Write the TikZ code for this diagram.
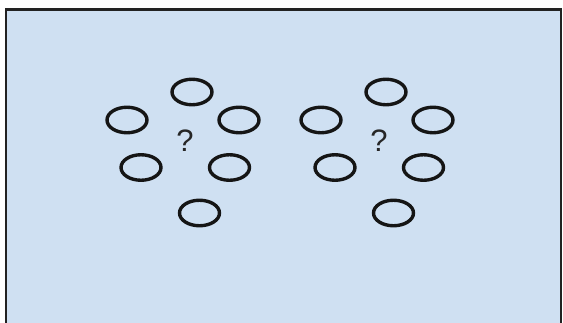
\documentclass[tikz,border=0pt]{standalone}
\usepackage{fontspec}
\setmainfont{Liberation Sans}
\usepackage{xcolor}
\usetikzlibrary{shapes.geometric}
\definecolor{panelfill}{HTML}{CFE0F2}
\definecolor{panelline}{HTML}{222222}
\definecolor{ringline}{HTML}{151515}
\tikzset{
  panel/.style={draw=panelline, fill=panelfill, line width=2.6pt},
  seat/.style={ellipse, draw=ringline, line width=3.4pt, inner sep=0pt,
    minimum width=40pt, minimum height=25.5pt},
  qmark/.style={inner sep=0pt, text=black!85,
    font=\fontsize{31}{34}\selectfont}
}

\begin{document}
\begin{tikzpicture}[x=1pt, y=-1pt]
  \useasboundingbox (0,0) rectangle (563,322);
  \clip (0,0) rectangle (563,322);
  \draw[panel] (6,9.5) rectangle (561,340);
  % two groups of seats round an unknown centre
  \foreach \g/\cx in {L/185, R/379}{
    \node[qmark] (q\g) at (\cx,141) {?};
    \foreach \s/\dx/\dy in {t/7/-49, l/-58/-21, r/54/-21,
                            ll/-44/26.5, lr/44.5/26.5, b/14.5/72}{
      \node[seat] (\g\s) at ({\cx+\dx},{141+\dy}) {};
    }
  }
\end{tikzpicture}
\end{document}
